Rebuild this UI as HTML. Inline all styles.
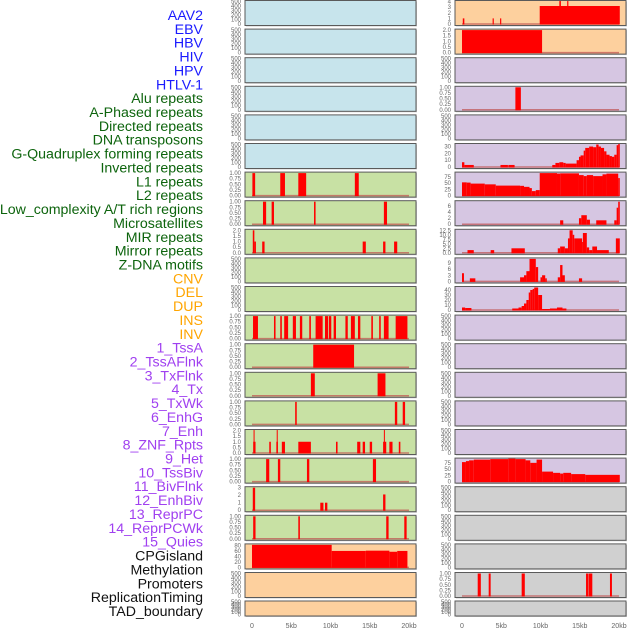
<!DOCTYPE html>
<html><head><meta charset="utf-8"><style>
body{margin:0;background:#fff;width:630px;height:630px;overflow:hidden}
svg{display:block}
</style></head><body>
<svg id="chart" width="630" height="630" xmlns="http://www.w3.org/2000/svg" font-family="Liberation Sans, sans-serif"></svg>
<script>
const trackLabels=["AAV2","EBV","HBV","HIV","HPV","HTLV-1","Alu repeats","A-Phased repeats","Directed repeats","DNA transposons","G-Quadruplex forming repeats","Inverted repeats","L1 repeats","L2 repeats","Low_complexity A/T rich regions","Microsatellites","MIR repeats","Mirror repeats","Z-DNA motifs","CNV","DEL","DUP","INS","INV","1_TssA","2_TssAFlnk","3_TxFlnk","4_Tx","5_TxWk","6_EnhG","7_Enh","8_ZNF_Rpts","9_Het","10_TssBiv","11_BivFlnk","12_EnhBiv","13_ReprPC","14_ReprPCWk","15_Quies","CPGisland","Methylation","Promoters","ReplicationTiming","TAD_boundary"];
const labelColors=["#1a1aff","#1a1aff","#1a1aff","#1a1aff","#1a1aff","#1a1aff","#0d640d","#0d640d","#0d640d","#0d640d","#0d640d","#0d640d","#0d640d","#0d640d","#0d640d","#0d640d","#0d640d","#0d640d","#0d640d","#ffa500","#ffa500","#ffa500","#ffa500","#ffa500","#a040f0","#a040f0","#a040f0","#a040f0","#a040f0","#a040f0","#a040f0","#a040f0","#a040f0","#a040f0","#a040f0","#a040f0","#a040f0","#a040f0","#a040f0","#111","#111","#111","#111","#111"];
const xTicks=[0,5,10,15,20];
const xTickLabels=["0","5kb","10kb","15kb","20kb"];
const emptyTicks=[0,100,200,300,400,500];
const unitTicks=[0,0.25,0.5,0.75,1.0];
const halfTicks=[0,0.5,1.0,1.5,2.0];
// segments: [startKb, endKb, value]
const L6=[[0.05,0.4,1],[3.6,4.2,1],[5.9,6.9,1],[13.1,13.6,1]];
const L7=[[1.4,1.8,1],[2.5,2.8,1],[7.9,8.1,1],[16.8,17.2,1]];
const L8=[[0.1,0.3,2],[0.3,0.5,1],[1.3,1.6,1],[14.1,14.5,1],[16.7,17.0,1],[18.1,18.5,1]];
const L11=[[0.13,0.76,1],[2.8,3.0,1],[3.6,3.8,1],[4.1,4.6,1],[5.2,5.6,1],[6.1,6.4,1],[7.3,7.5,1],[8.1,9.0,1],[9.3,9.7,1],[9.8,10.1,1],[10.4,10.7,1],[11.9,12.2,1],[12.6,13.1,1],[13.5,13.8,1],[15.2,15.4,1],[16.2,16.4,1],[16.8,17.4,1],[18.3,19.8,1]];
const L12=[[7.8,13.0,1]];
const L13=[[7.5,8.0,1],[16.0,17.0,1]];
const L14=[[5.5,5.7,1],[18.2,18.5,1],[19.2,19.5,1]];
const L15=[[0.15,0.45,1],[0.2,0.3,2.3],[2.2,2.4,1],[3.1,3.3,1],[3.15,3.25,2.3],[3.8,4.2,1],[5.9,7.5,1],[10.7,10.9,1],[13.4,13.8,1],[14.1,14.4,1],[15.0,15.3,1],[16.7,17.1,1],[16.8,16.9,2.3],[17.5,17.9,1],[18.7,18.9,1]];
const L16=[[1.8,2.2,1],[3.3,3.6,1],[7.0,7.3,1],[15.4,15.8,1]];
const L17=[[0.1,0.4,3],[8.7,9.1,1],[9.3,9.6,1],[16.7,17.0,2.1]];
const L18=[[0.15,0.45,1],[5.9,6.1,1],[17.1,17.4,1],[19.4,19.7,1]];
const L19=[[0.0,10.15,82],[10.15,14.5,60],[14.5,17.5,61],[17.5,18.5,57],[18.5,19.8,60]];
const R0=[[0.1,0.3,1],[3.9,4.05,1],[4.85,5.0,1],[9.9,20.1,3.2],[12.4,12.6,4.4],[13.4,13.55,4.4]];
const R1=[[0.0,10.2,2]];
const R3=[[6.8,7.5,1]];
const R5=[[0,0.3,7],[0.3,1.5,3],[4.9,5.85,3],[5.9,6.7,3],[11.5,11.9,3],[11.9,12.4,6],[12.4,12.9,7],[12.9,13.2,6],[13.2,14.6,5],[14.6,14.9,10],[14.9,15.1,15],[15.1,15.5,17],[15.5,15.7,24],[15.7,16.2,28],[16.2,16.7,30],[16.7,17.1,29],[17.1,17.4,33],[17.4,17.7,30],[17.7,18.1,28],[18.1,18.4,23],[18.4,18.8,18],[18.8,19.1,16],[19.1,19.4,15],[19.4,19.7,18],[19.7,19.9,32],[19.9,20.1,34]];
const R6=[[0,0.6,53],[0.6,1.1,52],[1.1,2.9,48],[2.9,4.3,45],[4.3,7.4,40],[7.4,7.9,39],[7.9,8.6,35],[8.6,8.9,30],[8.9,9.4,18],[9.4,9.9,22],[9.9,12.1,90],[12.1,12.5,88],[12.5,14.9,89],[14.9,15.5,82],[15.5,15.9,78],[15.9,16.7,82],[16.7,17.9,78],[17.9,18.4,85],[18.4,19.9,88],[19.9,20.1,70]];
const R7=[[12.5,12.9,1.3],[14.9,15.2,2],[15.2,15.9,3],[15.9,16.3,1.5],[17.1,18.4,1.3],[19.4,19.7,1.3],[19.7,19.9,5.5],[19.9,20.1,7.5]];
const R8=[[0.7,1.5,1.5],[3.65,4.1,1.5],[6.3,8.0,2.5],[12.2,12.5,2.5],[12.5,13.1,3.5],[13.1,13.5,2.5],[13.5,13.7,8],[13.7,14.1,12.5],[14.1,14.3,10],[14.3,15.3,8],[15.3,15.4,6],[15.4,15.9,11],[15.9,16.2,3],[16.2,16.6,1.5],[16.6,17.2,3.5],[17.2,18.7,1.5],[19.6,20.1,8]];
const R9=[[0,0.25,4],[1.0,1.7,1.5],[7.4,7.9,2],[7.9,8.2,3],[8.2,8.6,5],[8.6,9.4,11],[9.4,9.7,7],[10.0,10.2,2],[10.2,10.6,3],[10.6,10.8,1.5],[12.2,12.5,2],[12.5,12.8,8],[12.8,13.1,3],[14.9,15.3,1.5]];
const R10=[[0,0.4,5],[0.4,1.2,4],[6.4,7.2,3],[7.2,7.6,5],[7.6,7.9,8],[7.9,8.2,13],[8.2,8.5,20],[8.5,8.7,35],[8.7,9.0,40],[9.0,9.2,42],[9.2,9.7,45],[9.7,10.2,30],[10.2,11.2,2],[11.2,12.1,3],[12.1,12.8,5],[12.8,13.3,3]];
const R16=[[0,0.5,78],[0.5,0.9,82],[0.9,1.5,85],[1.5,3.6,88],[3.6,5.9,90],[5.9,6.8,92],[6.8,8.1,90],[8.1,8.7,85],[8.7,9.5,75],[9.5,10.2,88],[10.2,11.6,40],[11.6,12.5,35],[12.5,12.9,32],[12.9,13.9,35],[13.9,15.7,30],[15.7,20.1,27]];
const R20=[[2.0,2.4,1],[3.4,3.65,1],[7.6,8.0,1],[15.8,16.05,1],[16.1,16.6,1],[18.85,19.1,1]];

const BLUE="#c7e4ec",GREEN="#c8e1a4",ORANGE="#fdd09e",PURPLE="#d6c6e2",GRAY="#d0d0d0";
const leftBg=[BLUE,BLUE,BLUE,BLUE,BLUE,BLUE,GREEN,GREEN,GREEN,GREEN,GREEN,GREEN,GREEN,GREEN,GREEN,GREEN,GREEN,GREEN,GREEN,ORANGE,ORANGE,ORANGE];
const rightBg=[ORANGE,ORANGE,PURPLE,PURPLE,PURPLE,PURPLE,PURPLE,PURPLE,PURPLE,PURPLE,PURPLE,PURPLE,PURPLE,PURPLE,PURPLE,PURPLE,PURPLE,GRAY,GRAY,GRAY,GRAY,GRAY];
const leftData=[null,null,null,null,null,null,L6,L7,L8,null,null,L11,L12,L13,L14,L15,L16,L17,L18,L19,null,null];
const leftTicks=[0,0,0,0,0,0,unitTicks,unitTicks,halfTicks,0,0,unitTicks,unitTicks,unitTicks,unitTicks,halfTicks,unitTicks,[0,1,2,3],unitTicks,[0,20,40,60,80],0,0];
const rightData=[R0,R1,null,R3,null,R5,R6,R7,R8,R9,R10,null,null,null,null,null,R16,null,null,null,R20,null];
const rightTicks=[[0,1,2,3,4],halfTicks,0,unitTicks,0,[0,10,20,30],[0,25,50,75],[0,2,4,6],[0,2.5,5,7.5,10,12.5],[0,3,6,9],[0,10,20,30,40],0,0,0,0,0,[0,25,50,75],0,0,0,unitTicks,0];
const rightYMax=[4,2,0,1,0,33,90,7.5,12.5,11,45,0,0,0,0,0,90,0,0,0,1,0];
const leftYMax=[0,0,0,0,0,0,1,1,2,0,0,1,1,1,1,2,1,3,1,82,0,0];

const svg=document.getElementById('chart');
const NS="http://www.w3.org/2000/svg";
function mk(tag,attrs,parent){const e=document.createElementNS(NS,tag);for(const k in attrs)e.setAttribute(k,attrs[k]);(parent||svg).appendChild(e);return e;}
function fmt(t,ticks){const dec=ticks.some(v=>Math.abs(v*100%100)>0&&Math.abs(v*100%50)>0)?2:(ticks.some(v=>v%1!==0)?(ticks.includes(0.25)?2:1):0);return t.toFixed(dec);}

trackLabels.forEach((s,i)=>{
  const t=mk('text',{x:203,y:15+i*13.86+5,'text-anchor':'end','font-size':14.2,fill:labelColors[i]});
  
  
  t.textContent=s;
});

function drawPanel(col,row,bg,segs,ticks,ymax){
  const px0=col===0?245:455, pw=171;
  const top=row===21?601:0.5+row*28.6, h=row===21?15:25;
  const x0=px0+7, kbw=7.85;
  const xs=kb=>x0+kb*kbw;
  const g=mk('g',{});
  
  
  mk('rect',{x:px0+1,y:top+1,width:pw,height:h,fill:'#999',opacity:0.5},g);
  mk('rect',{x:px0,y:top,width:pw,height:h,fill:bg,stroke:'#5a5a5a','stroke-width':1},g);
  const tk=ticks||emptyTicks; const tmax=ticks?ymax:500;
  const yb=top+h-1.5, ys=v=>yb-Math.min(v,tmax*1.02)/tmax*(h-2.5);
  tk.forEach(v=>{
    const t=mk('text',{x:px0-4,y:ys(v)+2,'text-anchor':'end','font-size':6,fill:'#666'},g);
    
    
    t.textContent=ticks?fmt(v,tk):String(v);
  });
  if(segs){
    mk('line',{x1:xs(0),x2:xs(20),y1:yb,y2:yb,stroke:'#c05050','stroke-width':1.5,opacity:0.7},g);
    segs.forEach(s=>{
      const r=mk('rect',{x:xs(s[0]),y:ys(s[2]),width:Math.max(1,(s[1]-s[0])*kbw),height:yb-ys(s[2])+0.5,fill:'#ff0000'},g);
      
      
    });
  }
}
for(let r=0;r<22;r++){
  drawPanel(0,r,leftBg[r],leftData[r],leftTicks[r]||null,leftYMax[r]);
  drawPanel(1,r,rightBg[r],rightData[r],rightTicks[r]||null,rightYMax[r]);
}
[252,462].forEach((base,c)=>{
  xTicks.forEach((v,i)=>{
    const t=mk('text',{x:base+v*7.85,y:628,'text-anchor':'middle','font-size':7,fill:'#666'});
    
    
    t.textContent=xTickLabels[i];
  });
});
</script>
</body></html>
